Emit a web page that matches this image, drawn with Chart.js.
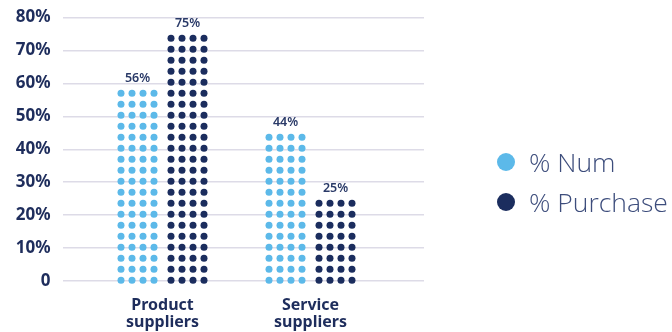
<!DOCTYPE html>
<html>
<head>
<meta charset="utf-8">
<script src="https://cdn.jsdelivr.net/npm/chart.js@4/dist/chart.umd.min.js"></script>
<style>
  body { margin: 0; background: #fff; }
  #wrap { position: relative; width: 672px; height: 332px; }
  #legend { position: absolute; left: 497px; top: 142px; font-family: "Open Sans", sans-serif; font-weight: 300; font-size: 26.5px; color: #3d4d7c; }
  .item { display: flex; align-items: center; height: 40px; white-space: nowrap; }
  .dot { width: 18px; height: 18px; border-radius: 50%; margin-right: 14px; }
</style>
</head>
<body>
<div id="wrap">
  <canvas id="chart"></canvas>
  <div id="legend"></div>
</div>
<script>
const categories = [["Product", "suppliers"], ["Service", "suppliers"]];
const numValues = [56, 44];
const purchaseValues = [75, 25];
const seriesNames = ["% Num", "% Purchase"];
const seriesColors = ["#5cb9e9", "#1b2d5e"];

const NAVY = "#1e2d5c";
const DOT_GAP = 11;
const DOT_R = 3.5;

// bars are drawn as a grid of dots, 4 columns wide
const dotBars = {
  id: "dotBars",
  beforeDatasetsDraw(chart) {
    const ctx = chart.ctx;
    chart.data.datasets.forEach((ds, di) => {
      const meta = chart.getDatasetMeta(di);
      meta.data.forEach((bar, i) => {
        const { x, y, base } = bar.getProps(["x", "y", "base"], true);
        const rows = Math.round((base - y) / DOT_GAP) + 1;
        ctx.save();
        ctx.fillStyle = ds.backgroundColor;
        for (let k = 0; k < rows; k++) {
          const cy = base - k * DOT_GAP;
          for (let c = 0; c < 4; c++) {
            ctx.beginPath();
            ctx.arc(x + (c - 1.5) * DOT_GAP, cy, DOT_R, 0, Math.PI * 2);
            ctx.fill();
          }
        }
        const topY = base - (rows - 1) * DOT_GAP;
        ctx.fillStyle = "#2a3a68";
        ctx.font = "600 12.5px 'Noto Sans', sans-serif";
        ctx.textAlign = "center";
        ctx.textBaseline = "middle";
        ctx.fillText(ds.data[i].y + "%", x, topY - DOT_R - 11.5);
        ctx.restore();
      });
    });
    return false;
  }
};

const ctx = document.getElementById("chart");

new Chart(ctx, {
  type: "bar",
  data: {
    datasets: [
      {
        label: seriesNames[0],
        data: numValues.map((v, i) => ({ x: i + 1, y: v })),
        backgroundColor: seriesColors[0],
      },
      {
        label: seriesNames[1],
        data: purchaseValues.map((v, i) => ({ x: i + 1, y: v })),
        backgroundColor: seriesColors[1],
      },
    ],
  },
  options: {
    responsive: true,
    maintainAspectRatio: false,
    animation: false,
    categoryPercentage: 100 / 148,
    barPercentage: 0.9,
    layout: { padding: { left: 0, top: 17.5, right: 248, bottom: 0 } },
    plugins: {
      legend: { display: false },
      tooltip: { enabled: true },
    },
    scales: {
      x: {
        type: "linear",
        min: 1 - 100 / 148,
        max: 1 - 100 / 148 + 361.5 / 148,
        offset: false,
        grid: { display: false },
        border: { display: false },
        afterBuildTicks: (scale) => {
          scale.ticks = categories.map((_, i) => ({ value: i + 1 }));
        },
        afterFit: (scale) => { scale.height = 51; },
        ticks: {
          autoSkip: false,
          maxRotation: 0,
          padding: 8,
          color: NAVY,
          font: { family: "'Noto Sans', sans-serif", size: 16, weight: "bold", lineHeight: 1.06 },
          callback: (v) => categories[v - 1] || "",
        },
      },
      y: {
        min: 0,
        max: 80,
        grid: { color: "#dddbe7", lineWidth: 1.5, drawTicks: false },
        border: { display: false },
        afterFit: (scale) => {
          scale.width = 62.5;
          scale.paddingTop = 0;
          scale.paddingBottom = 0;
        },
        ticks: {
          stepSize: 10,
          padding: 12,
          color: NAVY,
          font: { family: "'Noto Sans', sans-serif", size: 17, weight: "bold" },
          callback: (v) => (v === 0 ? "0" : v + "%"),
        },
      },
    },
  },
  plugins: [dotBars],
});

const legend = document.getElementById("legend");
seriesNames.forEach((name, i) => {
  const item = document.createElement("div");
  item.className = "item";
  const dot = document.createElement("span");
  dot.className = "dot";
  dot.style.background = seriesColors[i];
  const label = document.createElement("span");
  label.textContent = name;
  item.appendChild(dot);
  item.appendChild(label);
  legend.appendChild(item);
});
</script>
</body>
</html>
